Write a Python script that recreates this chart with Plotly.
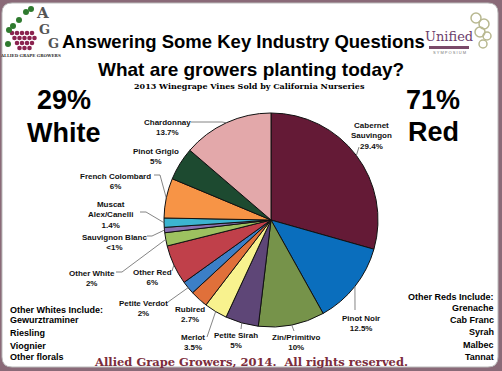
import math
import plotly.graph_objects as go

W, H = 502, 371

# ---- data ----
varieties = ["Cabernet Sauvingon", "Pinot Noir", "Zin/Primitivo", "Petite Sirah", "Merlot",
             "Rubired", "Petite Verdot", "Other Red", "Other White", "Sauvignon Blanc",
             "Muscat Alex/Canelli", "French Colombard", "Pinot Grigio", "Chardonnay"]
shares = [29.4, 12.5, 10, 5, 3.5, 2.7, 2, 6, 2, 0.8, 1.4, 6, 5, 13.7]
share_labels = ["29.4%", "12.5%", "10%", "5%", "3.5%", "2.7%", "2%", "6%", "2%", "<1%",
                "1.4%", "6%", "5%", "13.7%"]
label_names = ["Cabernet<br>Sauvingon", "Pinot Noir", "Zin/Primitivo", "Petite Sirah", "Merlot",
               "Rubired", "Petite Verdot", "Other Red", "Other White", "Sauvignon Blanc",
               "Muscat<br>Alex/Canelli", "French Colombard", "Pinot Grigio", "Chardonnay"]
colors = ["#641A36", "#0A6EBD", "#76934A", "#5E4677", "#F8F28E", "#E0703A", "#3C7FC6",
          "#C0404A", "#9DC160", "#8A70B0", "#3CB4D0", "#F79446", "#1D4A30", "#E3A8AA"]
white_share, red_share = "29%", "71%"
other_whites = ["Gewurztraminer", "Riesling", "Viognier", "Other florals"]
other_reds = ["Grenache", "Cab Franc", "Syrah", "Malbec", "Tannat"]

# ---- layout helpers (pixel -> paper) ----
def X(px):
    return px / W

def Y(py):
    return 1 - py / H

CX, CY, R = 271, 220, 107
FONT = "Liberation Sans"
LBL = dict(family=FONT, size=8, color="#111")

fig = go.Figure()
fig.add_trace(go.Pie(
    labels=varieties, values=shares, sort=False, direction="clockwise", rotation=0,
    marker=dict(colors=colors, line=dict(color="#111", width=1)),
    textinfo="none", hoverinfo="label+percent", showlegend=False,
    domain=dict(x=[X(CX - R), X(CX + R)], y=[Y(CY + R), Y(CY - R)]),
))

# label placement (text block first-line centre) and leader-line start points
label_pos = [(371, 124), (361, 317), (296, 336), (236, 334), (193, 336), (190, 308),
             (143, 302), (152, 271), (92, 272), (114, 236), (110, 203), (115, 175),
             (156, 150), (167, 121)]
leader = [[(359, 147)], [(355, 310)], [(294, 331)], [(241, 329)], [(207, 337)],
          [(204, 304)], [(168, 302)], [(172, 271)], [(116, 272), (122, 272)],
          [(147, 236), (152, 236)], [(140, 212), (146, 212)], [(154, 175), (160, 175)],
          None, [(191, 122), (222, 122)]]

shapes = []
# frame
shapes.append(dict(type="rect", xref="paper", yref="paper", x0=0, x1=1, y0=0, y1=1,
                   fillcolor="#8a6a78", line=dict(width=0), layer="below"))
def rounded(x0, y0, x1, y1, r):
    return (f"M {X(x0+r)},{Y(y0)} L {X(x1-r)},{Y(y0)} Q {X(x1)},{Y(y0)} {X(x1)},{Y(y0+r)} "
            f"L {X(x1)},{Y(y1-r)} Q {X(x1)},{Y(y1)} {X(x1-r)},{Y(y1)} L {X(x0+r)},{Y(y1)} "
            f"Q {X(x0)},{Y(y1)} {X(x0)},{Y(y1-r)} L {X(x0)},{Y(y0+r)} Q {X(x0)},{Y(y0)} {X(x0+r)},{Y(y0)} Z")
shapes.append(dict(type="path", xref="paper", yref="paper", path=rounded(2, 3, 498, 367, 10),
                   fillcolor="white", line=dict(color="#bbb", width=1), layer="below"))

total = sum(shares)
cum = 0
annotations = []
for i, v in enumerate(shares):
    mid = (cum + v / 2) / total * 2 * math.pi
    cum += v
    ex, ey = CX + R * math.sin(mid), CY - R * math.cos(mid)
    if leader[i]:
        pts = leader[i] + [(ex, ey)]
        path = "M " + " L ".join(f"{X(px)},{Y(py)}" for px, py in pts)
        shapes.append(dict(type="path", xref="paper", yref="paper", path=path,
                           line=dict(color="#666", width=0.8)))
    lx, ly = label_pos[i]
    annotations.append(dict(x=X(lx), y=Y(ly - 5), xref="paper", yref="paper",
                            xanchor="center", yanchor="top", showarrow=False,
                            text=f"<b>{label_names[i]}<br>{share_labels[i]}</b>", font=LBL))

def txt(text, px, py, size, color="#000", xanchor="center", family=FONT, bold=True):
    annotations.append(dict(x=X(px), y=Y(py), xref="paper", yref="paper", xanchor=xanchor,
                            yanchor="middle", showarrow=False,
                            text=f"<b>{text}</b>" if bold else text,
                            font=dict(family=family, size=size, color=color)))

txt("Answering Some Key Industry Questions", 243, 42, 18.5)
txt("What are growers planting today?", 251, 70, 19)
txt("2013 Winegrape Vines Sold by California Nurseries", 249, 86, 8, family="DejaVu Serif")
txt(white_share, 64, 100, 27)
txt("White", 64, 133, 27)
txt(red_share, 433, 100, 27)
txt("Red", 433, 132, 27)
txt("Other Whites Include:", 8, 310, 9, xanchor="left")
for k, n in enumerate(other_whites):
    txt(n, 8, [320, 333, 346, 357][k], 9, xanchor="left")
txt("Other Reds Include:", 496, 297, 9, xanchor="right")
for k, n in enumerate(other_reds):
    txt(n, 496, [308, 320, 332, 345, 357][k], 9, xanchor="right")
txt("Allied Grape Growers, 2014.  All rights reserved.", 251, 362, 11.5, color="#7B2C3B",
    family="DejaVu Serif")

# AGG logo (approximation)
for row, (n, y0) in enumerate([(5, 33), (5, 38), (4, 43), (3, 48)]):
    for c in range(n):
        px = 12 + row * 2.5 + c * 5
        shapes.append(dict(type="circle", xref="paper", yref="paper",
                           x0=X(px - 2.3), x1=X(px + 2.3), y0=Y(y0 + 2.3), y1=Y(y0 - 2.3),
                           fillcolor="#8B2450", line=dict(width=0)))
for (px, py) in [(26, 12), (31, 9), (9, 30), (13, 26), (8, 44), (19, 20)]:
    shapes.append(dict(type="circle", xref="paper", yref="paper",
                       x0=X(px - 3), x1=X(px + 3), y0=Y(py + 3), y1=Y(py - 3),
                       fillcolor="#2F7A2F", line=dict(width=0)))
txt("A", 42, 13, 15, color="#555", family="DejaVu Serif")
txt("G", 44, 30, 13, color="#555", family="DejaVu Serif")
txt("G", 53, 44, 13, color="#555", family="DejaVu Serif")
txt("ALLIED GRAPE GROWERS", 30, 55, 4, color="#333", family="DejaVu Serif")

# Unified logo (approximation)
txt("Unified", 449, 36, 13, color="#6B3D6B", family="DejaVu Serif", bold=False)
shapes.append(dict(type="rect", xref="paper", yref="paper", x0=X(429), x1=X(469),
                   y0=Y(49), y1=Y(46), fillcolor="#7A4A6A", line=dict(width=0)))
txt("S Y M P O S I U M", 449, 53, 4, color="#777", bold=False)
for (px, py, r) in [(476, 18, 5), (484, 24, 5), (480, 32, 5), (487, 36, 4), (483, 44, 4)]:
    shapes.append(dict(type="circle", xref="paper", yref="paper",
                       x0=X(px - r), x1=X(px + r), y0=Y(py + r), y1=Y(py - r),
                       line=dict(color="#B8B890", width=1.5)))

fig.update_layout(width=W, height=H, margin=dict(l=0, r=0, t=0, b=0),
                  paper_bgcolor="white", plot_bgcolor="white",
                  shapes=shapes, annotations=annotations)
fig.write_html("out.html", config={"displayModeBar": False},
               post_script="document.body.style.margin='0';document.body.style.overflow='hidden';")
